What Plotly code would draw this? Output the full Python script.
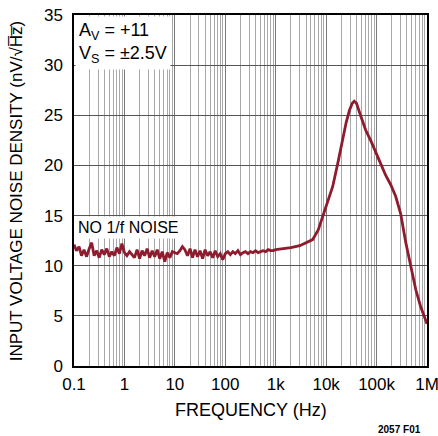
import plotly.graph_objects as go

# Noise-floor region (0.1 Hz .. ~1 kHz)
FREQ_FLAT = [
    0.100, 0.112, 0.126, 0.141, 0.158, 0.178, 0.200, 0.224, 0.251, 0.282,
    0.316, 0.355, 0.398, 0.447, 0.501, 0.562, 0.631, 0.708, 0.794, 0.891,
    1.00, 1.12, 1.26, 1.41, 1.58, 1.78, 2.00, 2.24, 2.51, 2.82,
    3.16, 3.55, 3.98, 4.47, 5.01, 5.62, 6.31, 7.08, 7.94, 8.91,
    10.0, 11.2, 12.6, 14.1, 15.8, 17.8, 20.0, 22.4, 25.1, 28.2,
    31.6, 35.5, 39.8, 44.7, 50.1, 56.2, 63.1, 70.8, 79.4, 89.1,
    100, 112, 126, 141, 158, 178, 200, 224, 251, 282,
    316, 355, 398, 447, 501, 562, 631, 708, 794, 891,
]
NOISE_FLAT = [
    12.1, 11.5, 11.9, 11.0, 11.6, 10.9, 11.7, 12.3, 11.0, 11.5,
    10.8, 11.6, 11.1, 11.7, 10.9, 11.4, 11.0, 11.8, 11.2, 12.2,
    11.3, 11.0, 11.4, 11.1, 10.8, 11.6, 10.7, 11.5, 11.0, 11.7,
    10.8, 11.5, 10.9, 11.6, 10.7, 11.4, 10.4, 11.3, 10.8, 11.4,
    11.3, 11.2, 11.5, 11.9, 11.6, 11.0, 11.7, 10.8, 11.6, 10.9,
    11.5, 10.7, 11.6, 11.0, 11.4, 10.8, 11.5, 10.9, 11.2, 10.6,
    11.2, 11.4, 11.1, 11.4, 11.2, 11.5, 11.1, 11.3, 11.4, 11.2,
    11.4, 11.3, 11.5, 11.3, 11.4, 11.5, 11.4, 11.6, 11.5, 11.5,
]

# Peaking region (1 kHz .. 1 MHz)
FREQ_PEAK = [
    1000, 1500, 2000, 3000, 4000, 5400, 7000, 8500, 11000, 13500,
    17000, 21000, 25000, 29000, 33000, 36000, 40000, 48000, 61000, 78000,
    97000, 120000, 152000, 190000, 240000, 300000, 380000, 480000, 600000,
    750000, 910000, 1000000,
]
NOISE_PEAK = [
    11.6, 11.7, 11.8, 12.0, 12.3, 12.6, 13.6, 14.9, 16.4, 17.9,
    20.2, 22.5, 24.3, 25.5, 26.2, 26.4, 26.2, 25.0, 23.5, 22.4,
    21.2, 20.2, 19.0, 18.1, 16.9, 15.2, 12.3, 9.8, 7.6,
    5.9, 4.6, 4.2,
]

X_TICKS = [0.1, 1, 10, 100, 1e3, 1e4, 1e5, 1e6]
X_TICK_TEXT = ["0.1", "1", "10", "100", "1k", "10k", "100k", "1M"]
Y_TICKS = [0, 5, 10, 15, 20, 25, 30, 35]

FONT = "Liberation Sans, Arial, sans-serif"
LINE_COLOR = "#8e1b2e"

fig = go.Figure()
fig.add_trace(go.Scatter(
    x=FREQ_FLAT + FREQ_PEAK,
    y=NOISE_FLAT + NOISE_PEAK,
    mode="lines",
    line=dict(color=LINE_COLOR, width=2.8),
    showlegend=False,
))

fig.update_layout(
    width=438, height=436,
    margin=dict(l=74, r=11, t=15, b=70),
    paper_bgcolor="white", plot_bgcolor="white",
    font=dict(family=FONT, size=17, color="black"),
    xaxis=dict(
        type="log", range=[-1, 6], automargin=False,
        tickvals=X_TICKS, ticktext=X_TICK_TEXT, ticklabeloverflow="allow",
        showgrid=True, gridcolor="#7a7a7a", gridwidth=1,
        minor=dict(dtick="D1", showgrid=True, gridcolor="#a8a8a8", gridwidth=1, ticks=""),
        showline=True, linecolor="black", linewidth=1.5, mirror=True,
        ticks="", tickfont=dict(size=17), ticklabelstandoff=2,
        zeroline=False,
    ),
    yaxis=dict(
        range=[0, 35], tickvals=Y_TICKS, automargin=False,
        showgrid=True, gridcolor="#555555", gridwidth=1,
        showline=True, linecolor="black", linewidth=1.5, mirror=True,
        ticks="", tickfont=dict(size=17), ticklabelstandoff=6,
        zeroline=False,
    ),
    annotations=[
        dict(xref="paper", yref="paper", x=0.5, y=-0.125, xanchor="center", yanchor="middle",
             text="FREQUENCY (Hz)", showarrow=False, font=dict(size=18)),
        dict(xref="paper", yref="paper", x=-0.162, y=0.5, xanchor="center", yanchor="middle",
             text="INPUT VOLTAGE NOISE DENSITY (nV/\u221aH\u0305z\u0305)", textangle=-90,
             showarrow=False, font=dict(size=17)),
        dict(xref="paper", yref="paper", x=0.004, y=0.997, xanchor="left", yanchor="top",
             text="A<sub>V</sub> = +11<br>V<sub>S</sub> = \u00b12.5V", showarrow=False,
             align="left", bgcolor="white", borderpad=3, font=dict(size=18)),
        dict(xref="paper", yref="y", x=0.004, y=13.8, xanchor="left", yanchor="middle",
             text="NO 1/f NOISE", showarrow=False, bgcolor="white", borderpad=2,
             font=dict(size=16)),
        dict(xref="paper", yref="paper", x=0.99, y=-0.182, xanchor="right", yanchor="middle",
             text="<b>2057 F01</b>", showarrow=False, font=dict(size=10)),
    ],
)

fig.write_html(
    "out.html",
    config={"displayModeBar": False},
    post_script="document.body.style.margin='0';document.body.style.padding='0';",
)
